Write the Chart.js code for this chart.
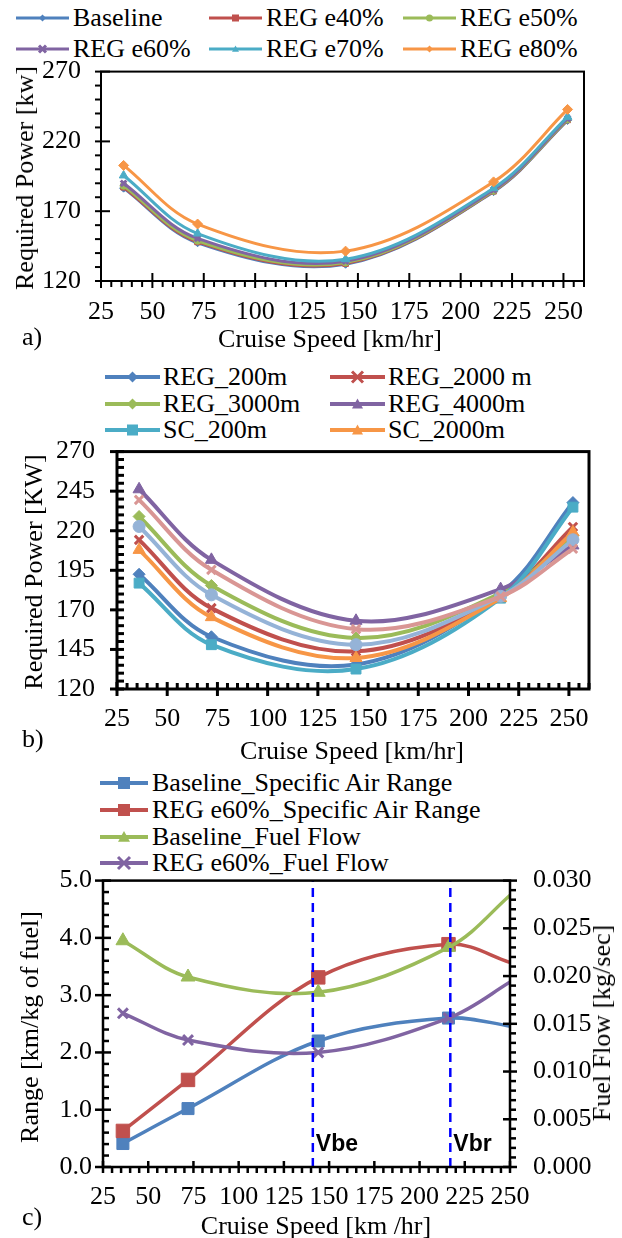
<!DOCTYPE html>
<html>
<head>
<meta charset="utf-8">
<script src="https://cdn.jsdelivr.net/npm/chart.js@4.4.1/dist/chart.umd.min.js"></script>
<style>
  html, body { margin: 0; padding: 0; background: #fff; }
  body { width: 622px; height: 1238px; position: relative; overflow: hidden;
         font-family: 'Liberation Serif', 'Times New Roman', serif; color: #000; }
  canvas { position: absolute; left: 0; z-index: 1; }
  .t { position: absolute; font-size: 26px; line-height: 26px; white-space: nowrap; z-index: 2; }
  .c { transform: translate(-50%, -50%); }
  .rot { transform: translate(-50%, -50%) rotate(-90deg); }
  .leg { position: absolute; display: flex; align-items: center; font-size: 26px;
         line-height: 26px; white-space: nowrap; z-index: 0; }
  .leg svg { display: block; }
</style>
</head>
<body>
<canvas id="chart-a" width="622" height="294" style="top:36px"></canvas>
<canvas id="chart-b" width="622" height="326" style="top:414px"></canvas>
<canvas id="chart-c" width="622" height="376" style="top:842px"></canvas>

<div class="t rot" style="left:25px;top:178px">Required Power [kw]</div>
<div class="t c" style="left:330px;top:339px">Cruise Speed [km/hr]</div>
<div class="t" style="left:22px;top:324px">a)</div>

<div class="t rot" style="left:34px;top:572px">Required Power [KW]</div>
<div class="t c" style="left:352px;top:751px">Cruise Speed [km/hr]</div>
<div class="t" style="left:22px;top:726px">b)</div>

<div class="t rot" style="left:30px;top:1027px">Range [km/kg of fuel]</div>
<div class="t rot" style="left:602px;top:1023px">Fuel Flow [kg/sec]</div>
<div class="t c" style="left:316px;top:1226px">Cruise Speed [km /hr]</div>
<div class="t" style="left:22px;top:1204px">c)</div>

<script>
'use strict';

// cruise speeds of every test point [km/hr]
const speeds = [36, 72, 144, 216, 252];

// a) required power for each regen efficiency [kW]
const namesA = ['Baseline', 'REG e40%', 'REG e50%', 'REG e60%', 'REG e70%', 'REG e80%'];
const powBaseline = [186.5, 147.4, 132.0, 184.0, 235.0];
const powE40      = [187.2, 148.0, 132.5, 184.3, 235.4];
const powE50      = [188.2, 148.8, 133.2, 184.6, 235.7];
const powE60      = [190.0, 150.5, 134.2, 185.3, 236.4];
const powE70      = [195.6, 154.0, 135.6, 186.5, 237.6];
const powE80      = [202.8, 160.8, 141.4, 191.0, 242.9];

// b) required power for each altitude [kW]
const namesB = ['REG_200m', 'REG_2000 m', 'REG_3000m', 'REG_4000m', 'SC_200m', 'SC_2000m', 'SC_3000m', 'SC_4000m'];
const legendCountB = 6;
const reg200  = [192.5, 153.0, 135.5, 180.5, 237.8];
const reg2000 = [214.2, 171.1, 143.8, 178.6, 222.4];
const reg3000 = [229.0, 185.4, 152.2, 180.6, 217.0];
const reg4000 = [246.2, 201.6, 163.1, 183.1, 210.7];
const sc200   = [186.9, 148.0, 132.6, 177.4, 234.9];
const sc2000  = [207.9, 165.4, 139.6, 177.4, 219.0];
const sc3000  = [222.7, 179.5, 148.0, 178.6, 214.3];
const sc4000  = [239.5, 195.3, 157.8, 178.5, 208.6];

// c) specific air range [km/kg] and fuel flow [kg/sec]
const namesC = ['Baseline_Specific Air Range', 'REG e60%_Specific Air Range', 'Baseline_Fuel Flow', 'REG e60%_Fuel Flow'];
const sarBaseline = [0.41, 1.02, 2.20, 2.60, 2.45];
const sarReg60    = [0.63, 1.52, 3.31, 3.89, 3.55];
const ffBaseline  = [0.0237, 0.0199, 0.0183, 0.0230, 0.0288];
const ffReg60     = [0.0161, 0.0133, 0.0120, 0.0156, 0.0196];
const vLines  = [141, 217];
const vLabels = ['Vbe', 'Vbr'];

// axis ranges [min, max, step]
const xAxisAB = [25, 260, 25];
const xAxisC  = [25, 250, 25];
const yAxisA  = [120, 270, 50];
const yAxisB  = [120, 270, 25];
const yAxisC  = [0, 5, 1];
const y2AxisC = [0, 0.03, 0.005];

const blue = '#4F81BD', red = '#C0504D', green = '#9BBB59', purple = '#8064A2';
const aqua = '#4BACC6', orange = '#F79646', ltBlue = '#95B3D7', pink = '#D99694';

const serif = "'Liberation Serif','Times New Roman',serif";
const tickFont = { family: serif, size: 26 };

// white plot area, black frame and Excel style major/minor tick marks
const frameTicks = {
  id: 'frameTicks',
  beforeDatasetsDraw(chart) {
    const { ctx, chartArea: a } = chart;
    ctx.save();
    ctx.fillStyle = '#fff';
    ctx.fillRect(a.left, a.top, a.right - a.left, a.bottom - a.top);
    ctx.restore();
  },
  afterDraw(chart, args, opts) {
    if (!opts || !opts.axes) return;
    const { ctx, chartArea: a } = chart;
    ctx.save();
    ctx.strokeStyle = '#000';
    ctx.lineWidth = opts.width;
    ctx.strokeRect(a.left, a.top, a.right - a.left, a.bottom - a.top);
    opts.axes.forEach(ax => {
      const s = chart.scales[ax.id];
      const n = Math.round((s.max - s.min) / ax.minor);
      for (let i = 0; i <= n; i++) {
        const v = s.min + i * ax.minor;
        const r = (v - s.min) / ax.major;
        const len = Math.abs(r - Math.round(r)) < 1e-6 ? ax.majorLen : ax.minorLen;
        const p = s.getPixelForValue(v);
        ctx.beginPath();
        if (s.position === 'bottom') { ctx.moveTo(p, a.bottom - len[0]); ctx.lineTo(p, a.bottom + len[1]); }
        else if (s.position === 'left') { ctx.moveTo(a.left + len[0], p); ctx.lineTo(a.left - len[1], p); }
        else { ctx.moveTo(a.right - len[0], p); ctx.lineTo(a.right + len[1], p); }
        ctx.stroke();
      }
    });
    ctx.restore();
  }
};
Chart.register(frameTicks);

// text next to the dashed speed markers
const lineLabels = {
  id: 'lineLabels',
  afterDraw(chart, args, opts) {
    const { ctx, chartArea: a } = chart;
    const x = chart.scales.x;
    ctx.save();
    ctx.font = "bold 23px 'Liberation Sans', Arial, sans-serif";
    ctx.fillStyle = '#000';
    ctx.textAlign = 'left';
    ctx.textBaseline = 'middle';
    opts.values.forEach((v, i) => ctx.fillText(opts.texts[i], x.getPixelForValue(v) + 3, a.bottom - opts.up));
    ctx.restore();
  }
};

function series(values, color, shape, r, w, xMax) {
  const thin = shape === 'crossRot' || shape === 'star';
  return {
    data: speeds.map((x, i) => ({ x, y: values[i] })),
    borderColor: color,
    backgroundColor: color,
    pointBackgroundColor: color,
    pointBorderColor: color,
    pointStyle: shape,
    pointRadius: c => (c.raw && c.raw.x > xMax ? 0 : r),
    pointBorderWidth: thin ? 3 : 1,
    borderWidth: w,
    tension: 0.35,
    fill: false
  };
}

function xScale(range, height, pad) {
  return {
    type: 'linear', position: 'bottom', min: range[0], max: range[1],
    afterFit: s => { s.height = height; },
    grid: { display: false, drawTicks: false },
    border: { display: false },
    ticks: { stepSize: range[2], includeBounds: false, autoSkip: false, maxRotation: 0,
             padding: pad, color: '#000', font: tickFont }
  };
}

function yScale(range, pos, width, pad, digits) {
  return {
    type: 'linear', position: pos, min: range[0], max: range[1],
    afterFit: s => { s.width = width; },
    grid: { display: false, drawTicks: false },
    border: { display: false },
    ticks: { stepSize: range[2], includeBounds: false, autoSkip: false, padding: pad,
             color: '#000', font: tickFont, callback: v => Number(v).toFixed(digits) }
  };
}

function options(padRight, scales, frame, extra) {
  return {
    responsive: false, animation: false, events: [],
    layout: { padding: { top: 0, right: padRight, left: 0, bottom: 0 } },
    elements: { line: { capBezierPoints: false } },
    plugins: Object.assign({ legend: { display: false }, tooltip: { enabled: false }, frameTicks: frame }, extra || {}),
    scales
  };
}

// later series are drawn on top, as in the source workbook
function stackOrder(sets) {
  sets.forEach((d, i) => { d.order = sets.length - i; });
  return sets;
}

const setsA = stackOrder([
  series(powBaseline, blue, 'rectRot', 4, 3, 260),
  series(powE40, red, 'rect', 4, 3, 260),
  series(powE50, green, 'circle', 3.5, 3, 260),
  series(powE60, purple, 'crossRot', 4, 3, 260),
  series(powE70, aqua, 'triangle', 5, 3, 260),
  series(powE80, orange, 'rectRot', 5, 3, 260)
]);

new Chart(document.getElementById('chart-a'), {
  type: 'line',
  data: { datasets: setsA },
  options: options(38, {
    x: xScale(xAxisAB, 49, 16),
    y: yScale(yAxisA, 'left', 101, 20, 0)
  }, {
    width: 2,
    axes: [
      { id: 'x', minor: 5, major: 25, majorLen: [8, 7], minorLen: [0, 6] },
      { id: 'y', minor: 10, major: 50, majorLen: [9, 6], minorLen: [0, 6] }
    ]
  })
});

const setsB = stackOrder([
  series(reg200, blue, 'rectRot', 6, 4, 260),
  series(reg2000, red, 'crossRot', 6, 4, 260),
  series(reg3000, green, 'rectRot', 6, 4, 260),
  series(reg4000, purple, 'triangle', 7, 4, 260),
  series(sc200, aqua, 'rect', 7, 4, 260),
  series(sc2000, orange, 'triangle', 7, 4, 260),
  series(sc3000, ltBlue, 'circle', 6, 4, 260),
  series(sc4000, pink, 'crossRot', 6, 4, 260)
]);

new Chart(document.getElementById('chart-b'), {
  type: 'line',
  data: { datasets: setsB },
  options: options(33, {
    x: xScale(xAxisAB, 51, 15),
    y: yScale(yAxisB, 'left', 117, 22, 0)
  }, {
    width: 3,
    axes: [
      { id: 'x', minor: 5, major: 25, majorLen: [7, 7], minorLen: [6, 0] },
      { id: 'y', minor: 5, major: 25, majorLen: [7, 7], minorLen: [7, 0] }
    ]
  })
});

const setsC = stackOrder([
  series(sarBaseline, blue, 'rect', 8.5, 3.5, 250),
  series(sarReg60, red, 'rect', 9.5, 3.5, 250),
  Object.assign(series(ffBaseline, green, 'triangle', 8, 3.5, 250), { yAxisID: 'y2' }),
  Object.assign(series(ffReg60, purple, 'crossRot', 7, 3.5, 250), { yAxisID: 'y2' })
]);
vLines.forEach(v => setsC.push({
  data: [{ x: v, y: yAxisC[0] }, { x: v, y: yAxisC[1] }],
  borderColor: '#0000FF', borderWidth: 2.5, borderDash: [9, 6],
  pointRadius: 0, tension: 0, fill: false, order: 0
}));

new Chart(document.getElementById('chart-c'), {
  type: 'line',
  data: { datasets: setsC },
  options: options(0, {
    x: xScale(xAxisC, 51, 15),
    y: yScale(yAxisC, 'left', 103, 11, 1),
    y2: yScale(y2AxisC, 'right', 112, 23, 3)
  }, {
    width: 2.5,
    axes: [
      { id: 'x', minor: 5, major: 25, majorLen: [6, 6], minorLen: [0, 6] },
      { id: 'y', minor: 0.2, major: 1, majorLen: [8, 8], minorLen: [6, 0] },
      { id: 'y2', minor: 0.001, major: 0.005, majorLen: [7, 7], minorLen: [0, 6] }
    ]
  }, { lineLabels: { values: vLines, texts: vLabels, up: 22 } }),
  plugins: [lineLabels]
});

// Excel style legends: line with the series marker, then the name
function markerSvg(shape, cx, cy, r, color) {
  if (shape === 'rect') return `<rect x="${cx - r}" y="${cy - r}" width="${2 * r}" height="${2 * r}" fill="${color}"/>`;
  if (shape === 'rectRot') return `<polygon points="${cx},${cy - r} ${cx + r},${cy} ${cx},${cy + r} ${cx - r},${cy}" fill="${color}"/>`;
  if (shape === 'triangle') return `<polygon points="${cx},${cy - r} ${cx + r},${cy + r * 0.8} ${cx - r},${cy + r * 0.8}" fill="${color}"/>`;
  if (shape === 'crossRot') return `<path d="M${cx - r} ${cy - r}L${cx + r} ${cy + r}M${cx + r} ${cy - r}L${cx - r} ${cy + r}" stroke="${color}" stroke-width="3"/>`;
  return `<circle cx="${cx}" cy="${cy}" r="${r}" fill="${color}"/>`;
}

function addLegend(names, sets, lay) {
  names.forEach((name, i) => {
    const d = sets[i];
    const col = i % lay.x.length, row = Math.floor(i / lay.x.length);
    const el = document.createElement('div');
    el.className = 'leg';
    el.style.left = lay.x[col] + 'px';
    el.style.top = (lay.y[row] - 13) + 'px';
    el.innerHTML = `<svg width="${lay.line}" height="26">` +
      `<line x1="0" y1="13" x2="${lay.line}" y2="13" stroke="${d.borderColor}" stroke-width="${lay.lw}"/>` +
      markerSvg(d.pointStyle, lay.line / 2, 13, lay.r, d.borderColor) +
      `</svg><span style="margin-left:${lay.gap}px">${name}</span>`;
    document.body.appendChild(el);
  });
}

addLegend(namesA, setsA, { x: [16, 209, 403], y: [18, 49], line: 53, gap: 4, lw: 3, r: 3.5 });
addLegend(namesB.slice(0, legendCountB), setsB, { x: [105, 330], y: [377, 404, 430], line: 55, gap: 3, lw: 4, r: 5.5 });
addLegend(namesC, setsC, { x: [100], y: [783, 810, 837, 863], line: 48, gap: 4, lw: 4, r: 6 });
</script>
</body>
</html>
